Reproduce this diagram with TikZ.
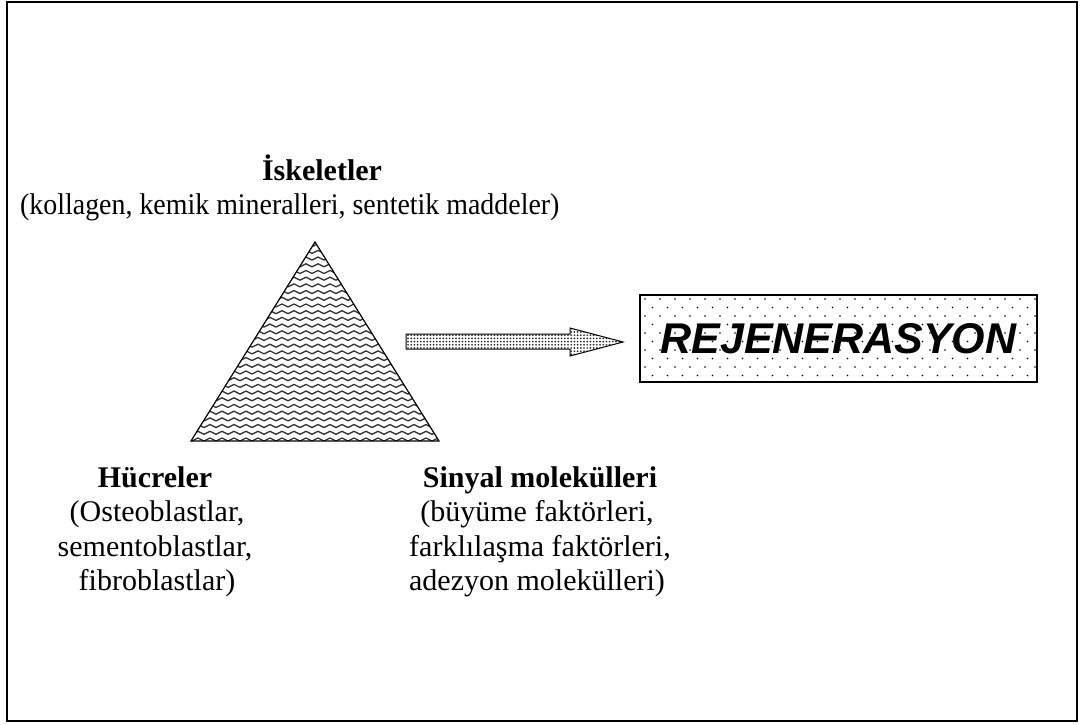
\documentclass[tikz,border=0pt]{standalone}
\usepackage{fontspec}
\usepackage{graphicx}
\setmainfont{Liberation Serif}
\newfontfamily\arialfont{Liberation Sans}
\usetikzlibrary{patterns}

\pgfdeclarepatternformonly{wavy}{\pgfpoint{-1pt}{-1pt}}{\pgfpoint{13pt}{8pt}}{\pgfpoint{12pt}{6.7pt}}{%
  \pgfsetlinewidth{1.3pt}%
  \pgfpathmoveto{\pgfpoint{0pt}{1.6pt}}%
  \pgfpathcurveto{\pgfpoint{2pt}{1.6pt}}{\pgfpoint{4pt}{4.6pt}}{\pgfpoint{6pt}{4.6pt}}%
  \pgfpathcurveto{\pgfpoint{8pt}{4.6pt}}{\pgfpoint{10pt}{1.6pt}}{\pgfpoint{12pt}{1.6pt}}%
  \pgfusepath{stroke}%
}
\pgfdeclarepatternformonly{sparsedots}{\pgfpoint{-1pt}{-1pt}}{\pgfpoint{16pt}{18pt}}{\pgfpoint{15pt}{17pt}}{%
  \pgfpathcircle{\pgfpoint{0pt}{0pt}}{0.9pt}%
  \pgfpathcircle{\pgfpoint{7.5pt}{8.5pt}}{0.9pt}%
  \pgfusepath{fill}%
}
\pgfdeclarepatternformonly{densedots}{\pgfpoint{-1pt}{-1pt}}{\pgfpoint{4pt}{4pt}}{\pgfpoint{3.2pt}{3.2pt}}{%
  \pgfpathcircle{\pgfpoint{1.6pt}{1.6pt}}{0.95pt}%
  \pgfusepath{fill}%
}

\tikzset{
  frame/.style={draw, line width=2pt},
  tri/.style={draw, line width=1.2pt, pattern=wavy, pattern color=black!80},
  blockarrow/.style={draw, line width=1pt, pattern=densedots, pattern color=black!85},
  regbox/.style={draw, line width=2pt, pattern=sparsedots, pattern color=black,
    minimum width=397pt, minimum height=87pt, inner sep=0pt,
    font=\arialfont\bfseries\itshape\fontsize{43}{43}\selectfont},
  title/.style={anchor=base, font=\bfseries\fontsize{30}{34.5}\selectfont, inner sep=0pt},
  body/.style={anchor=base, font=\fontsize{30}{34.5}\selectfont, inner sep=0pt}
}

\begin{document}
\begin{tikzpicture}[x=1pt,y=-1pt]
\useasboundingbox (0,0) rectangle (1080,724);
\draw[frame] (7,2) rectangle (1077,721);

% triangle
\coordinate (apex) at (315,242);
\coordinate (bl) at (191,441);
\coordinate (br) at (439,441);
\draw[tri] (apex) -- (br) -- (bl) -- cycle;

% block arrow
\draw[blockarrow] (406,334) -- (570,334) -- (570,328) -- (623,342) -- (570,356) -- (570,349) -- (406,349) -- cycle;

% regeneration box
\node[regbox] (regen) at (838.5,338.5) {REJENERASYON};

% top labels
\node[title] (isk) at (322,180) {İskeletler};
\node[body, anchor=base west] (isk1) at (20,214) {\scalebox{0.93}[1]{(kollagen, kemik mineralleri, sentetik maddeler)}};

% left labels
\node[title] (huc) at (155,487) {Hücreler};
\node[body] (huc1) at (157,521.5) {(Osteoblastlar,};
\node[body] (huc2) at (155,556) {sementoblastlar,};
\node[body] (huc3) at (157,590.5) {fibroblastlar)};

% right labels
\node[title] (sin) at (540,487) {Sinyal molekülleri};
\node[body] (sin1) at (537,521.5) {(büyüme faktörleri,};
\node[body] (sin2) at (540,556) {farklılaşma faktörleri,};
\node[body] (sin3) at (537,590.5) {adezyon molekülleri)};
\end{tikzpicture}
\end{document}
